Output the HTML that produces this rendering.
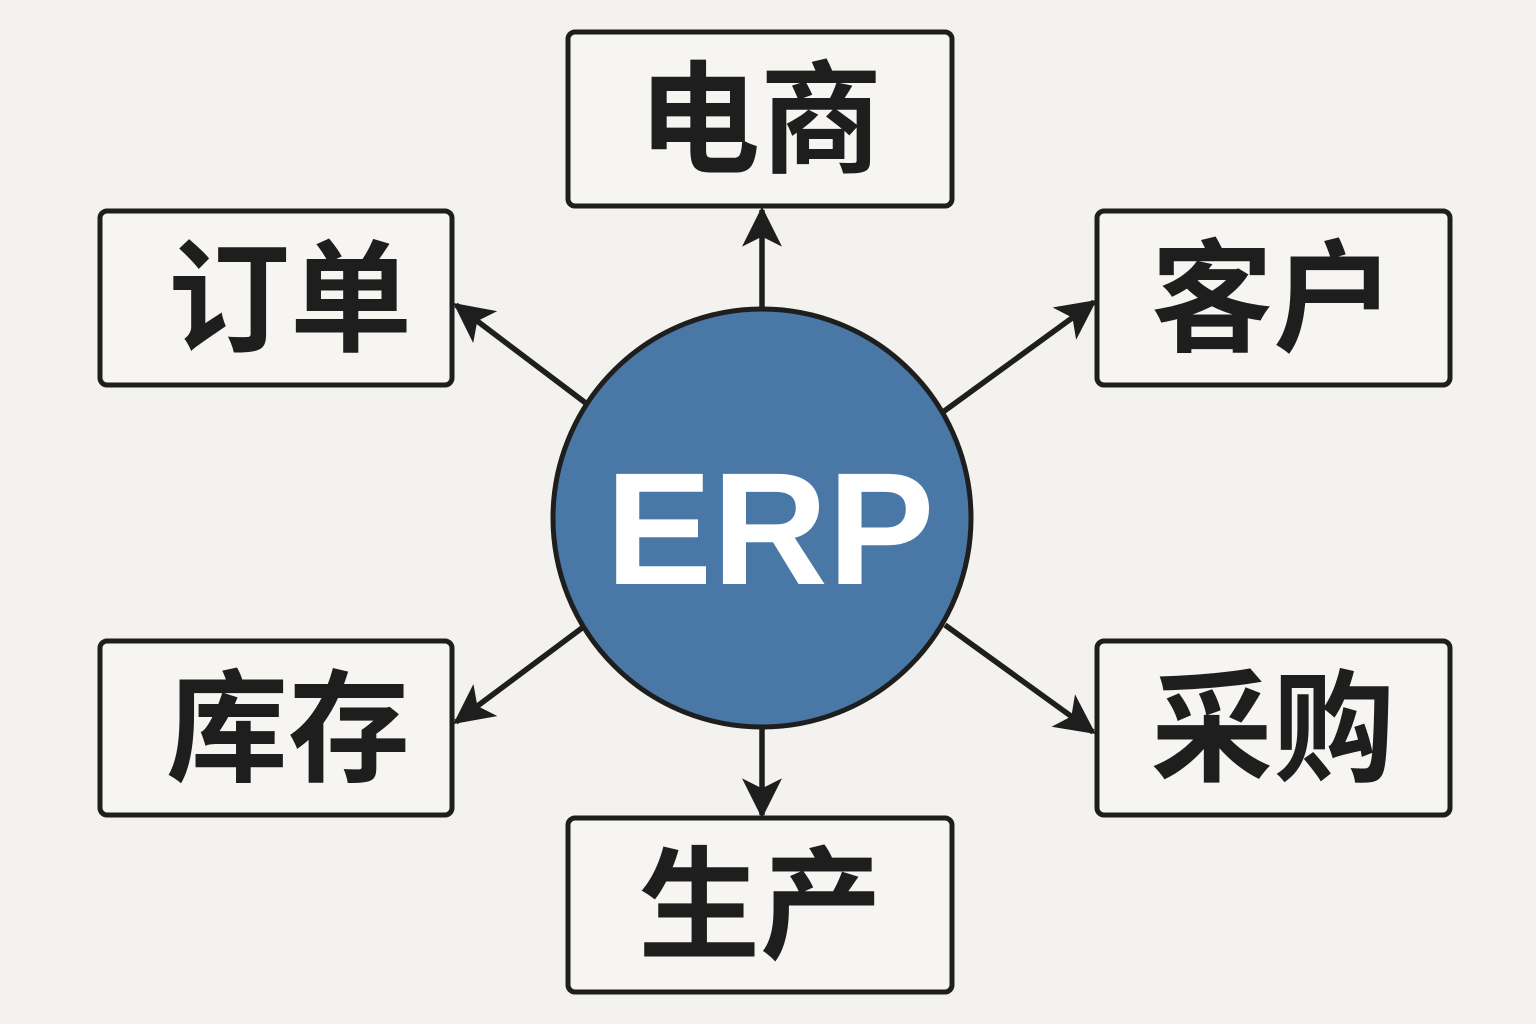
<!DOCTYPE html>
<html><head><meta charset="utf-8"><style>
html,body{margin:0;padding:0;background:#f3f2ee;}
svg{display:block}
</style></head><body>
<svg width="1536" height="1024" viewBox="0 0 1536 1024" xmlns="http://www.w3.org/2000/svg">
<defs>
<marker id="ah" viewBox="0 0 12 12" refX="11" refY="6" markerWidth="40" markerHeight="40" markerUnits="userSpaceOnUse" orient="auto">
<path d="M0,0 L12,6 L0,12 L3,6 Z" fill="#1e1e1e"/>
</marker>
</defs>
<rect width="1536" height="1024" fill="#f3f2ee"/>
<g stroke="#1e1e1e" stroke-width="5.5" fill="none" marker-end="url(#ah)">
<line x1="762" y1="312" x2="762" y2="210"/>
<line x1="587" y1="404" x2="456" y2="305"/>
<line x1="943" y1="412" x2="1094" y2="302"/>
<line x1="582" y1="628" x2="456" y2="722"/>
<line x1="945" y1="625" x2="1093" y2="732"/>
<line x1="762" y1="726" x2="762" y2="815"/>
</g>
<circle cx="762" cy="518" r="209" fill="#4a78a6" stroke="#1e1e1e" stroke-width="5"/>
<text x="770" y="584" text-anchor="middle" font-family="Liberation Sans, sans-serif" font-weight="bold" font-size="160" fill="#ffffff">ERP</text>
<g fill="#f6f5f1" stroke="#1e1e1e" stroke-width="5">
<rect x="568" y="32" width="384" height="174" rx="7"/>
<rect x="100" y="211" width="352" height="174" rx="7"/>
<rect x="1097" y="211" width="353" height="174" rx="7"/>
<rect x="100" y="641" width="352" height="174" rx="7"/>
<rect x="1097" y="641" width="353" height="174" rx="7"/>
<rect x="568" y="818" width="384" height="174" rx="7"/>
</g>
<g font-family="Liberation Sans, Noto Sans CJK SC, sans-serif" font-weight="bold" font-size="122" fill="#1e1e1e" text-anchor="middle">
<text x="760" y="163">电商</text>
<text x="290" y="342">订单</text>
<text x="1273" y="342">客户</text>
<text x="288" y="772">库存</text>
<text x="1273" y="772">采购</text>
<text x="760" y="949">生产</text>
</g>
</svg>
</body></html>
